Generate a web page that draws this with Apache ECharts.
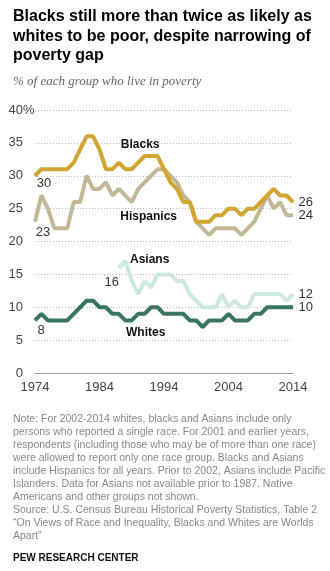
<!DOCTYPE html>
<html>
<head>
<meta charset="utf-8">
<script src="https://cdn.jsdelivr.net/npm/echarts@6/dist/echarts.min.js"></script>
<style>html,body{margin:0;padding:0;background:#fff}#c{width:330px;height:571px}</style>
</head>
<body>
<div id="c"></div>
<script>
const years = [];
for (let y = 1974; y <= 2014; y++) years.push(String(y));

const blacks = [30,31,31,31,31,31,32,34,36,36, 34,31,31,32,31,31,32,33,33,33, 31,29,28,26,26,23,23,23,24,24, 25,25,24,25,25,26,27,28,27,27, 26];
const hispanics = [23,27,25,22,22,22,26,26,30,28, 28,29,27,28,27,26,28,29,30,31, 31,30,29,27,26,23,22,21,22,22, 22,22,21,22,23,25,27,25,26,24, 24];
const asians = [null,null,null,null,null,null,null,null,null,null, null,null,null,16,17,14,12,14,13,15, 15,15,14,14,12,11,10,10,10,12, 10,11,10,10,12,12,12,12,12,11, 12];
const whites = [8,9,8,8,8,8,9,10,11,11, 10,10,9,9,8,8,9,9,10,10, 9,9,9,9,8,8,7,8,8,8, 9,8,8,8,9,9,10,10,10,10, 10];
const yTicks = [0,5,10,15,20,25,30,35,40];

const FONT = '"Liberation Sans", Arial, sans-serif';
const numStyle = {fontSize: 13, color: '#333', fontFamily: FONT};

function withLabels(arr, startOffset) {
  let first = arr.findIndex(v => v != null);
  let last = arr.length - 1;
  return arr.map((v, i) => {
    if (i === first) return {value: v, label: Object.assign({show: true, position: 'bottom', distance: 5, offset: startOffset, formatter: String(v)}, numStyle)};
    if (i === last) return {value: v, label: Object.assign({show: true, position: 'right', distance: 5, formatter: String(v)}, numStyle)};
    return v;
  });
}

function nameMark(name, cat, val, off) {
  return {
    symbol: 'circle',
    symbolSize: 0,
    silent: true,
    data: [{coord: [cat, val], label: {show: true, formatter: name, position: 'inside', offset: off, fontSize: 12, fontWeight: 'bold', color: '#111', fontFamily: FONT}}]
  };
}

function lineSeries(name, arr, color, startOffset, mark) {
  return {
    name: name, type: 'line', data: withLabels(arr, startOffset),
    showSymbol: true, showAllSymbol: true, symbol: 'circle', symbolSize: 1,
    label: {show: false},
    lineStyle: {color: color, width: 4}, itemStyle: {color: color},
    emphasis: {disabled: true},
    markPoint: mark
  };
}

const chart = echarts.init(document.getElementById('c'), null, {renderer: 'canvas'});
chart.setOption({
  animation: false,
  backgroundColor: '#fff',
  title: [
    {text: 'Blacks still more than twice as likely as\nwhites to be poor, despite narrowing of\npoverty gap', left: 8, top: 2,
     textStyle: {fontSize: 16, fontWeight: 'bold', color: '#000', lineHeight: 19.5, fontFamily: FONT}},
    {text: '% of each group who live in poverty', left: 8, top: 70,
     textStyle: {fontSize: 13, fontStyle: 'italic', fontWeight: 'normal', color: '#666', fontFamily: '"Liberation Serif", "DejaVu Serif", serif'}},
    {text: 'Note: For 2002-2014 whites, blacks and Asians include only\npersons who reported a single race. For 2001 and earlier years,\nrespondents (including those who may be of more than one race)\nwere allowed to report only one race group. Blacks and Asians\ninclude Hispanics for all years. Prior to 2002, Asians include Pacific\nIslanders. Data for Asians not available prior to 1987. Native\nAmericans and other groups not shown.\nSource: U.S. Census Bureau Historical Poverty Statistics, Table 2\n\u201COn Views of Race and Inequality, Blacks and Whites are Worlds\nApart\u201D',
     left: 8, top: 408,
     textStyle: {fontSize: 10.5, fontWeight: 'normal', color: '#888', lineHeight: 13, fontFamily: FONT}},
    {text: 'PEW RESEARCH CENTER', left: 8, top: 548,
     textStyle: {fontSize: 10, fontWeight: 'bold', color: '#111', fontFamily: FONT}}
  ],
  grid: {left: 35, right: 37, top: 110, bottom: 198, containLabel: false},
  xAxis: {
    type: 'category', data: years, boundaryGap: false,
    axisLine: {show: true, lineStyle: {color: '#999', width: 1}},
    axisTick: {show: false},
    axisLabel: {interval: 9, margin: 8, fontSize: 13, color: '#444', fontFamily: FONT},
    splitLine: {show: false}
  },
  yAxis: [
    {type: 'value', min: 0, max: 40, interval: 5,
     axisLine: {show: false}, axisTick: {show: false},
     axisLabel: {margin: 12, fontSize: 13, color: '#444', fontFamily: FONT, formatter: v => yTicks.includes(v) ? String(v) : ''},
     splitLine: {show: true, lineStyle: {color: '#bbb', type: [1, 2], width: 1}}},
    {type: 'value', min: 0, max: 40, interval: 5, position: 'left',
     axisLine: {show: false}, axisTick: {show: false}, splitLine: {show: false},
     axisLabel: {margin: 12, align: 'left', fontSize: 13, color: '#444', fontFamily: FONT, formatter: v => v === 40 ? '%' : ''}}
  ],
  series: [
    lineSeries('Hispanics', hispanics, '#c2b898', [8, -1], nameMark('Hispanics', '1991', 23.7, [4, 0])),
    lineSeries('Blacks', blacks, '#d1a530', [9, -4], nameMark('Blacks', '1990', 34.8, [2, 0])),
    lineSeries('Asians', asians, '#cde8e0', [-7, 3], nameMark('Asians', '1991', 17.2, [5, 0])),
    lineSeries('Whites', whites, '#3a7464', [6, -2], nameMark('Whites', '1991', 6.2, [1, 0]))
  ]
});
</script>
</body>
</html>
